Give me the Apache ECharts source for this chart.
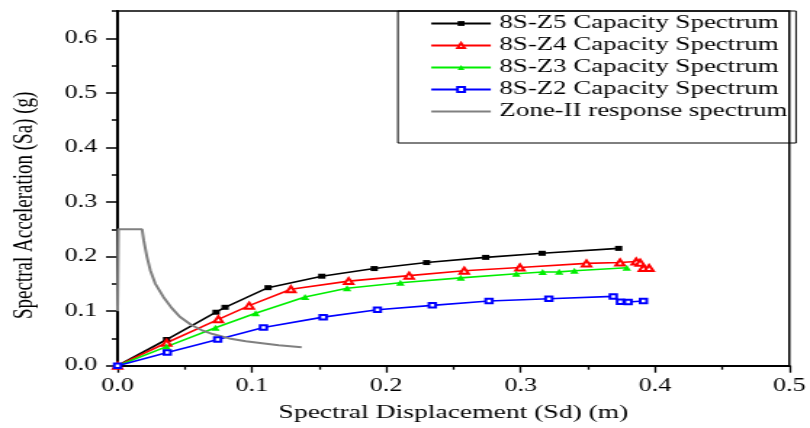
<!DOCTYPE html>
<html>
<head>
<meta charset="utf-8">
<script src="https://cdn.jsdelivr.net/npm/echarts@6/dist/echarts.min.js"></script>
<style>
  html, body { margin: 0; padding: 0; background: #fff; overflow: hidden; }
  /* the source figure is stretched horizontally, so the chart is drawn narrower and widened */
  #chart { width: 558px; height: 428px; transform: scaleX(1.4516); transform-origin: 0 0; }
</style>
</head>
<body>
<div id="chart"></div>
<script>
// values
const z5Sd = [0, 0.0365, 0.0733, 0.080, 0.112, 0.152, 0.191, 0.230, 0.274, 0.316, 0.373]
const z5Sa = [0, 0.048, 0.098, 0.107, 0.143, 0.164, 0.178, 0.189, 0.1985, 0.206, 0.215]

const z4Sd = [0, 0.0365, 0.075, 0.098, 0.129, 0.172, 0.217, 0.258, 0.2995, 0.349, 0.374, 0.386, 0.389, 0.3914, 0.3956]
const z4Sa = [0, 0.042, 0.085, 0.110, 0.140, 0.155, 0.165, 0.174, 0.180, 0.1875, 0.189, 0.191, 0.1887, 0.179, 0.179]

const z3Sd = [0, 0.0365, 0.0728, 0.1027, 0.1395, 0.1708, 0.2105, 0.2554, 0.2968, 0.3164, 0.3287, 0.340, 0.379]
const z3Sa = [0, 0.035, 0.0696, 0.096, 0.126, 0.1418, 0.152, 0.161, 0.1685, 0.1716, 0.172, 0.174, 0.1795]

const z2Sd = [0, 0.037, 0.0745, 0.1086, 0.153, 0.1934, 0.2343, 0.2765, 0.321, 0.369, 0.3743, 0.380, 0.3914]
const z2Sa = [0, 0.024, 0.048, 0.070, 0.089, 0.1026, 0.1106, 0.1185, 0.1227, 0.127, 0.117, 0.1167, 0.1185]

const zoneSd = [0, 0.0006, 0.0182, 0.0194, 0.0218, 0.0243, 0.0279, 0.0341, 0.0402, 0.0463, 0.0549, 0.0635, 0.0708, 0.0831, 0.0954, 0.1076, 0.1199, 0.137]
const zoneSa = [0.10, 0.25, 0.25, 0.230, 0.200, 0.175, 0.151, 0.126, 0.106, 0.0897, 0.0745, 0.0641, 0.058, 0.050, 0.0447, 0.041, 0.0373, 0.0337]

const yTicks = [0, 0.1, 0.2, 0.3, 0.4, 0.5, 0.6]
const legendNames = ['8S-Z5 Capacity Spectrum', '8S-Z4 Capacity Spectrum', '8S-Z3 Capacity Spectrum', '8S-Z2 Capacity Spectrum', 'Zone-II response spectrum']

const font = 'Liberation Serif'
const pairs = (xs, ys) => xs.map((x, i) => [x, ys[i]])

function capacity(name, sd, sa, color, symbol, size) {
  return {
    name: name,
    type: 'line',
    data: pairs(sd, sa),
    symbol: symbol,
    symbolSize: size,
    color: color,
    lineStyle: { color: color, width: 1.6 },
    itemStyle: { color: color, borderWidth: 1 }
  }
}

const chart = echarts.init(document.getElementById('chart'))
chart.setOption({
  animation: false,
  grid: {
    left: 80.6,
    right: 9.6,
    top: 11,
    bottom: 62.3,
    show: true,
    borderColor: '#000',
    borderWidth: 1.5
  },
  legend: {
    orient: 'vertical',
    right: 9.6,
    top: 11,
    align: 'left',
    itemWidth: 41,
    itemHeight: 6,
    itemGap: 3,
    padding: [3, 6, 22, 22],
    borderColor: '#000',
    borderWidth: 1,
    textStyle: { fontFamily: font, fontSize: 18.5, color: '#000', padding: [0, 0, 0, 1] },
    data: [
      legendNames[0],
      legendNames[1],
      legendNames[2],
      legendNames[3],
      { name: legendNames[4], itemStyle: { opacity: 0 } }
    ]
  },
  xAxis: {
    type: 'value',
    min: 0,
    max: 0.5,
    interval: 0.1,
    name: 'Spectral Displacement (Sd) (m)',
    nameLocation: 'middle',
    nameGap: 38,
    nameTextStyle: { fontFamily: font, fontSize: 19, color: '#000' },
    axisLine: { show: true, onZero: false, lineStyle: { color: '#000', width: 2 } },
    axisTick: { length: 7, lineStyle: { color: '#000', width: 1.3 } },
    minorTick: { show: true, splitNumber: 2, length: 4, lineStyle: { color: '#000', width: 1.3 } },
    axisLabel: { fontFamily: font, fontSize: 18, color: '#000', margin: 12, formatter: v => v.toFixed(1) },
    splitLine: { show: false }
  },
  yAxis: [
    {
      type: 'value',
      min: 0,
      max: 0.65,
      interval: 0.1,
      name: 'Spectral Acceleration (Sa) (g)',
      nameLocation: 'middle',
      nameGap: 54,
      nameTextStyle: { fontFamily: font, fontSize: 19, color: '#000', padding: [0, 34, 0, 0] },
      axisLine: { show: true, onZero: false, lineStyle: { color: '#000', width: 2 } },
      axisTick: { customValues: yTicks, length: 8, lineStyle: { color: '#000', width: 1.5 } },
      axisLabel: { customValues: yTicks, fontFamily: font, fontSize: 18, color: '#000', margin: 14, formatter: v => v.toFixed(1) },
      splitLine: { show: false }
    },
    {
      // minor ticks every 0.05
      type: 'value',
      min: 0,
      max: 0.65,
      interval: 0.05,
      position: 'left',
      axisLine: { show: false },
      axisTick: { length: 4, lineStyle: { color: '#000', width: 1.5 } },
      axisLabel: { show: false },
      splitLine: { show: false }
    }
  ],
  series: [
    capacity(legendNames[0], z5Sd, z5Sa, '#000000', 'rect', 5),
    capacity(legendNames[1], z4Sd, z4Sa, '#ff0000', 'emptyTriangle', 6),
    capacity(legendNames[2], z3Sd, z3Sa, '#00ee00', 'triangle', 6),
    capacity(legendNames[3], z2Sd, z2Sa, '#0000ff', 'emptyRect', 4.5),
    {
      name: legendNames[4],
      type: 'line',
      data: pairs(zoneSd, zoneSa),
      symbol: 'none',
      color: '#808080',
      lineStyle: { color: '#808080', width: 2 }
    }
  ]
})
</script>
</body>
</html>
